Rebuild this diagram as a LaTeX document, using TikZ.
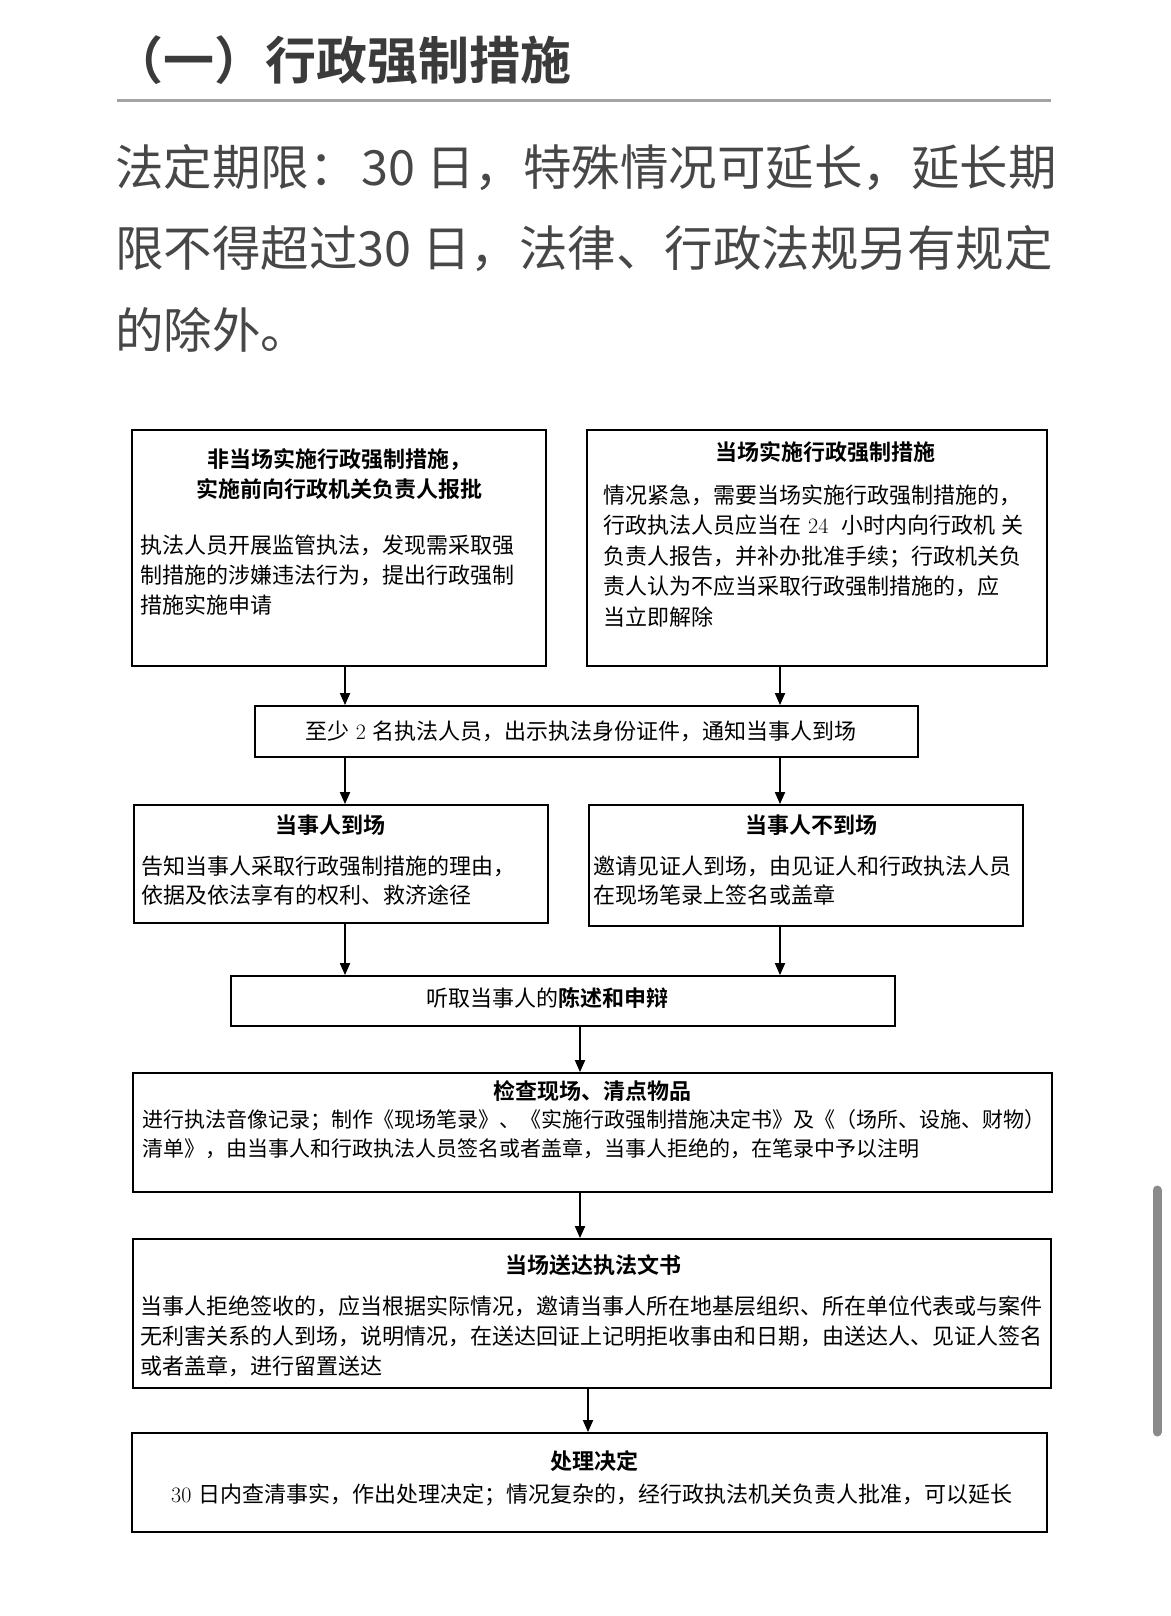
\documentclass[tikz,border=0pt]{standalone}
\usepackage{fontspec}
\newfontfamily\cjk[BoldFont={Noto Sans CJK SC Bold}]{Noto Sans CJK SC}
\usetikzlibrary{arrows.meta}

\definecolor{headgray}{HTML}{3B3B3B}
\definecolor{paragray}{HTML}{474747}
\definecolor{rulegray}{HTML}{A3A3A3}
\definecolor{bargray}{HTML}{8A8A8A}

\newcommand{\latnum}[1]{{\rmfamily #1}}

\tikzset{
  flowbox/.style={draw=black, line width=1.8pt, inner sep=0pt},
  boxhead/.style={inner sep=0pt, align=center, font=\cjk\bfseries\fontsize{22}{30}\selectfont},
  boxtext/.style={inner sep=0pt, anchor=west, align=left, font=\cjk\fontsize{22}{30}\selectfont},
  flowarrow/.style={-{Triangle[length=12pt,width=10pt]}, line width=1.8pt},
  paraline/.style={anchor=west, inner sep=0pt, text=paragray, font=\cjk\fontsize{48.5}{49}\selectfont},
}

\begin{document}
\begin{tikzpicture}[x=1pt,y=-1pt]
    \useasboundingbox (0,0) rectangle (1170,1616);

    % heading and intro text
    \node[anchor=west, inner sep=0pt, text=headgray, font=\cjk\bfseries\fontsize{51}{51}\selectfont] (heading) at (112,60) {（一）行政强制措施};
    \draw[rulegray, line width=3pt] (117,101) -- (1051,101);
    \node[paraline] (para1) at (115,168) {法定期限：\hspace{4pt}30 日，特殊情况可延长，延长期};
    \node[paraline] (para2) at (115,249) {限不得超过30 日，法律、行政法规另有规定};
    \node[paraline] (para3) at (115,330) {的除外。};

    % boxes
    \node[flowbox, minimum width=414pt, minimum height=236pt] (offsite) at (339,548) {};
    \node[flowbox, minimum width=460pt, minimum height=236pt] (onsite) at (817,548) {};
    \node[flowbox, minimum width=663pt, minimum height=51pt] (notify) at (586.5,731.5) {};
    \node[flowbox, minimum width=414pt, minimum height=118pt] (present) at (341,864) {};
    \node[flowbox, minimum width=434pt, minimum height=121pt] (absent) at (806,865.5) {};
    \node[flowbox, minimum width=664pt, minimum height=50pt] (hearing) at (563,1001) {};
    \node[flowbox, minimum width=919pt, minimum height=119pt] (inspect) at (592.5,1132.5) {};
    \node[flowbox, minimum width=918pt, minimum height=149pt] (deliver) at (592,1313.5) {};
    \node[flowbox, minimum width=915pt, minimum height=99pt] (decide) at (589.5,1482.5) {};

    % box texts
    \node[boxhead] (offsitehead) at (339,474) {非当场实施行政强制措施，\\实施前向行政机关负责人报批};
    \node[boxtext] (offsitetext) at (140,575) {执法人员开展监管执法，发现需采取强\\制措施的涉嫌违法行为，提出行政强制\\措施实施申请};
    \node[boxhead] (onsitehead) at (825,452) {当场实施行政强制措施};
    \node[boxtext, font=\cjk\fontsize{22}{30.5}\selectfont] (onsitetext) at (603,556) {情况紧急，需要当场实施行政强制措施的，\\行政执法人员应当在\hspace{7pt}\latnum{24}\hspace{13pt}小时内向行政机\hspace{6pt}关\\负责人报告，并补办批准手续；行政机关负\\责人认为不应当采取行政强制措施的，应\\当立即解除};
    \node[inner sep=0pt, font=\cjk\fontsize{22}{30}\selectfont] (notifytext) at (581,731) {至少\hspace{6pt}\latnum{2}\hspace{6pt}名执法人员，出示执法身份证件，通知当事人到场};
    \node[boxhead] (presenthead) at (330,825) {当事人到场};
    \node[boxtext, font=\cjk\fontsize{22}{29}\selectfont] (presenttext) at (141,880.5) {告知当事人采取行政强制措施的理由，\\依据及依法享有的权利、救济途径};
    \node[boxhead] (absenthead) at (811,825) {当事人不到场};
    \node[boxtext, font=\cjk\fontsize{22}{29}\selectfont] (absenttext) at (593,880.5) {邀请见证人到场，由见证人和行政执法人员\\在现场笔录上签名或盖章};
    \node[inner sep=0pt, font=\cjk\fontsize{22}{30}\selectfont] (hearingtext) at (547,998) {听取当事人的{\bfseries 陈述和申辩}};
    \node[boxhead] (inspecthead) at (592,1091) {检查现场、清点物品};
    \node[boxtext, font=\cjk\fontsize{21}{29}\selectfont] (inspecttext) at (142,1134.5) {进行执法音像记录；制作《现场笔录》、《实施行政强制措施决定书》及《（场所、设施、财物）\\清单》，由当事人和行政执法人员签名或者盖章，当事人拒绝的，在笔录中予以注明};
    \node[boxhead] (deliverhead) at (593,1265) {当场送达执法文书};
    \node[boxtext] (delivertext) at (140,1336) {当事人拒绝签收的，应当根据实际情况，邀请当事人所在地基层组织、所在单位代表或与案件\\无利害关系的人到场，说明情况，在送达回证上记明拒收事由和日期，由送达人、见证人签名\\或者盖章，进行留置送达};
    \node[boxhead] (decidehead) at (594,1461) {处理决定};
    \node[boxtext] (decidetext) at (171,1495) {\latnum{30}\hspace{7pt}日内查清事实，作出处理决定；情况复杂的，经行政执法机关负责人批准，可以延长};

    % arrows
    \coordinate (colL) at (345,0);
    \coordinate (colR) at (780,0);
    \coordinate (colM) at (580,0);
    \coordinate (colN) at (588,0);
    \draw[flowarrow] (offsite.south -| colL) -- (notify.north -| colL);
    \draw[flowarrow] (onsite.south -| colR) -- (notify.north -| colR);
    \draw[flowarrow] (notify.south -| colL) -- (present.north -| colL);
    \draw[flowarrow] (notify.south -| colR) -- (absent.north -| colR);
    \draw[flowarrow] (present.south -| colL) -- (hearing.north -| colL);
    \draw[flowarrow] (absent.south -| colR) -- (hearing.north -| colR);
    \draw[flowarrow] (hearing.south -| colM) -- (inspect.north -| colM);
    \draw[flowarrow] (inspect.south -| colM) -- (deliver.north -| colM);
    \draw[flowarrow] (deliver.south -| colN) -- (decide.north -| colN);

    % scroll bar
    \draw[bargray, line width=9pt, line cap=round] (1157,1190) -- (1157,1432);
\end{tikzpicture}
\end{document}
